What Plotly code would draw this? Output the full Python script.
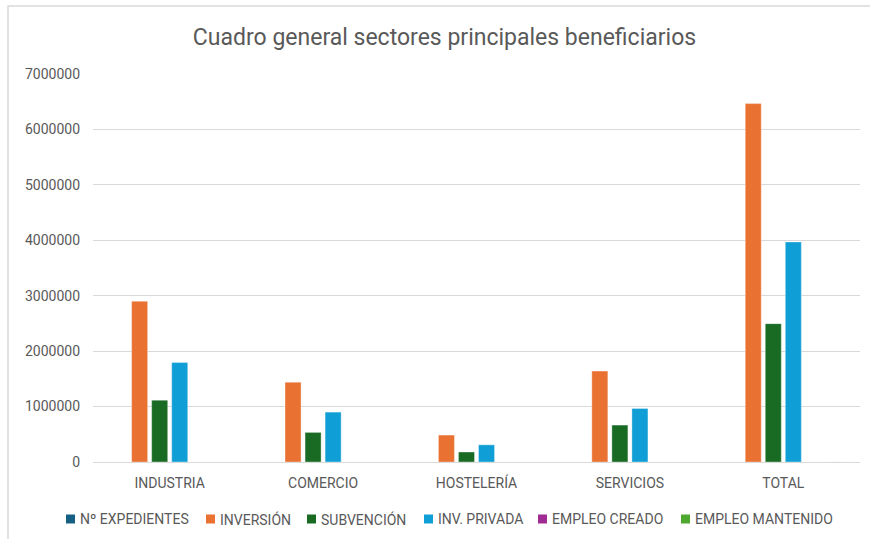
import plotly.graph_objects as go

categories = ["INDUSTRIA", "COMERCIO", "HOSTELERÍA", "SERVICIOS", "TOTAL"]
series_names = ["Nº EXPEDIENTES", "INVERSIÓN", "SUBVENCIÓN", "INV. PRIVADA", "EMPLEO CREADO", "EMPLEO MANTENIDO"]
expedientes = [40, 35, 15, 30, 120]
inversion = [2900000, 1440000, 486000, 1640000, 6466000]
subvencion = [1116000, 534000, 180000, 666000, 2496000]
inv_privada = [1794000, 900000, 310000, 966000, 3970000]
empleo_creado = [30, 15, 8, 20, 73]
empleo_mantenido = [300, 150, 60, 200, 710]
colors = ["#156082", "#E97132", "#196B24", "#0F9ED5", "#A02B93", "#4EA72E"]

values = [expedientes, inversion, subvencion, inv_privada, empleo_creado, empleo_mantenido]

FONT = "Roboto, sans-serif"
GRAY = "#595959"

# layout geometry (pixels)
W, H = 870, 539
ML, MR, MT, MB = 93, 10, 74, 77
PW, PH = W - ML - MR, H - MT - MB
legend_marker_px = [66, 206, 307, 424, 538, 681]
legend_y_px = 519


def px_x(p):
    return (p - ML) / PW


def px_y(p):
    return (H - MB - p) / PH


fig = go.Figure()
for name, vals, col in zip(series_names, values, colors):
    fig.add_trace(go.Bar(
        x=categories, y=vals, name=name, showlegend=False,
        marker=dict(color=col, line=dict(color="rgba(255,255,255,0.45)", width=0.8)),
    ))

shapes = [dict(type="rect", xref="paper", yref="paper",
               x0=px_x(8), x1=px_x(W + 20), y0=px_y(H + 20), y1=px_y(6),
               line=dict(color="#D9D9D9", width=1.5), fillcolor="rgba(0,0,0,0)", layer="below")]
annotations = []
for name, col, mx in zip(series_names, colors, legend_marker_px):
    shapes.append(dict(type="rect", xref="paper", yref="paper",
                       x0=px_x(mx), x1=px_x(mx + 9),
                       y0=px_y(legend_y_px + 4.5), y1=px_y(legend_y_px - 4.5),
                       fillcolor=col, line=dict(width=0)))
    annotations.append(dict(text=name, xref="paper", yref="paper",
                            x=px_x(mx + 12), y=px_y(legend_y_px),
                            xanchor="left", yanchor="middle", showarrow=False,
                            font=dict(family=FONT, size=14, color=GRAY)))

fig.update_layout(
    width=W, height=H,
    barmode="group", bargap=0.216, bargroupgap=0.2,
    paper_bgcolor="white", plot_bgcolor="white",
    margin=dict(l=ML, r=MR, t=MT, b=MB, autoexpand=False),
    showlegend=False,
    title=dict(text="Cuadro general sectores principales beneficiarios",
               x=444.5 / W, xref="container", xanchor="center", y=1 - 37 / H, yanchor="middle",
               font=dict(family=FONT, size=23, color=GRAY)),
    font=dict(family=FONT, color=GRAY, size=13),
    xaxis=dict(showgrid=False, showline=False, ticks="", automargin=False,
               ticklabelstandoff=11,
               tickfont=dict(family=FONT, size=14, color=GRAY)),
    yaxis=dict(range=[0, 7000000], dtick=1000000, tickformat="d", automargin=False,
               showgrid=True, gridcolor="#D9D9D9", gridwidth=1,
               zeroline=True, zerolinecolor="#D9D9D9", zerolinewidth=1,
               showline=False, ticks="", ticklabelstandoff=12,
               tickfont=dict(family=FONT, size=14, color=GRAY)),
    shapes=shapes,
    annotations=annotations,
)

fig.write_html("out.html", config={"displayModeBar": False},
               post_script="document.body.style.margin='0';document.body.style.overflow='hidden';")
